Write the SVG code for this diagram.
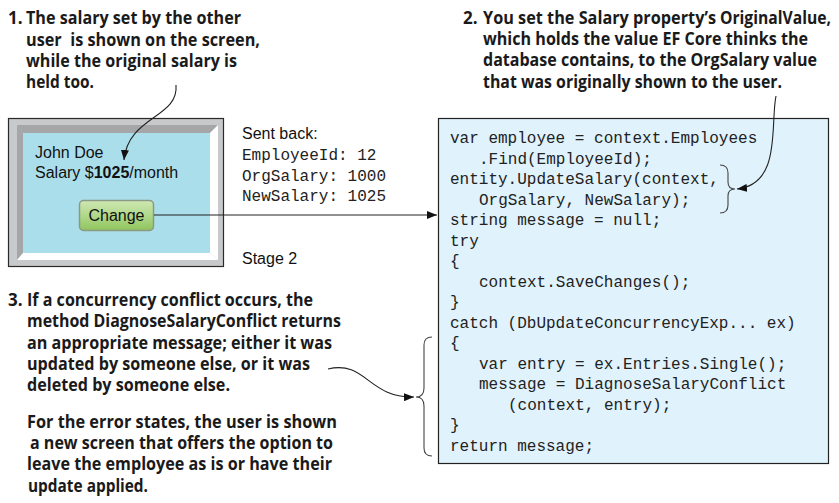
<svg xmlns="http://www.w3.org/2000/svg" width="839" height="503" viewBox="0 0 839 503">
<defs>
<style>
.note{font-family:"Open Sans",Lato,"Liberation Sans",sans-serif;font-weight:bold;font-size:17px;fill:#1a1a1a}
.ui{font-family:"Liberation Sans",Arial,sans-serif;font-size:16px;fill:#111}
.mono{font-family:"Liberation Mono","Courier New",monospace;font-size:16px;fill:#222}
.conn{fill:none;stroke:#222;stroke-width:1.1}
.brace{fill:none;stroke:#444;stroke-width:1.1}
</style>
<marker id="ah" viewBox="0 0 10 8" refX="10" refY="4" markerWidth="10" markerHeight="8" markerUnits="userSpaceOnUse" orient="auto">
<path d="M0,0 L10,4 L0,8 Z" fill="#111"/>
</marker>
<linearGradient id="btn" x1="0" y1="0" x2="0" y2="1">
<stop offset="0" stop-color="#cfe7b3"/>
<stop offset="0.5" stop-color="#b0d88a"/>
<stop offset="1" stop-color="#8fc45d"/>
</linearGradient>
</defs>
<rect width="839" height="503" fill="#ffffff"/>

<g id="note1">
<text class="note" x="8" y="24">1.</text>
<text class="note" x="26" y="24" textLength="215" lengthAdjust="spacingAndGlyphs">The salary set by the other</text>
<text class="note" x="26" y="46" textLength="234" lengthAdjust="spacingAndGlyphs" xml:space="preserve">user  is shown on the screen,</text>
<text class="note" x="26" y="67" textLength="211" lengthAdjust="spacingAndGlyphs">while the original salary is</text>
<text class="note" x="26" y="88" textLength="68" lengthAdjust="spacingAndGlyphs">held too.</text>
</g>

<g id="note2">
<text class="note" x="463" y="24">2.</text>
<text class="note" x="483" y="24" font-size="16.5" textLength="233" lengthAdjust="spacingAndGlyphs">You set the Salary property’s</text>
<text class="note" x="720" y="24" font-size="15.8" textLength="111" lengthAdjust="spacingAndGlyphs">OriginalValue,</text>
<text class="note" x="483" y="45" textLength="325" lengthAdjust="spacingAndGlyphs">which holds the value EF Core thinks the</text>
<text class="note" x="483" y="66" textLength="334" lengthAdjust="spacingAndGlyphs">database contains, to the OrgSalary value</text>
<text class="note" x="483" y="88" textLength="299" lengthAdjust="spacingAndGlyphs">that was originally shown to the user.</text>
</g>

<g id="note3">
<text class="note" x="8" y="306">3.</text>
<text class="note" x="27" y="306" textLength="286" lengthAdjust="spacingAndGlyphs">If a concurrency conflict occurs, the</text>
<text class="note" x="27" y="327" textLength="314" lengthAdjust="spacingAndGlyphs">method DiagnoseSalaryConflict returns</text>
<text class="note" x="27" y="349" textLength="305" lengthAdjust="spacingAndGlyphs">an appropriate message; either it was</text>
<text class="note" x="27" y="370" textLength="283" lengthAdjust="spacingAndGlyphs">updated by someone else, or it was</text>
<text class="note" x="27" y="391" textLength="203" lengthAdjust="spacingAndGlyphs">deleted by someone else.</text>
<text class="note" x="27" y="428" textLength="310" lengthAdjust="spacingAndGlyphs">For the error states, the user is shown</text>
<text class="note" x="30" y="449" textLength="303" lengthAdjust="spacingAndGlyphs">a new screen that offers the option to</text>
<text class="note" x="27" y="470" textLength="305" lengthAdjust="spacingAndGlyphs">leave the employee as is or have their</text>
<text class="note" x="28" y="492" textLength="120" lengthAdjust="spacingAndGlyphs">update applied.</text>
</g>

<g id="screen">
<rect x="8.5" y="118.5" width="215" height="148" fill="#c8c9cb" stroke="#2a2a2a" stroke-width="1.2"/>
<polygon points="17,125 218,125 210,133 23,133" fill="#a5a6a8"/>
<polygon points="17,125 23,133 23,253 17,260" fill="#a5a6a8"/>
<polygon points="218,125 218,260 210,253 210,133" fill="#ffffff"/>
<polygon points="17,260 218,260 210,253 23,253" fill="#ffffff"/>
<rect x="23" y="133" width="187" height="120" fill="#abdeeb"/>
<text class="ui" x="35" y="158">John Doe</text>
<text class="ui" x="35" y="178">Salary $<tspan font-weight="bold">1025</tspan>/month</text>
</g>

<g id="change-button">
<rect x="79.5" y="200.5" width="74" height="30" rx="4" fill="url(#btn)" stroke="#8a9a84" stroke-width="1.5"/>
<text class="ui" x="116.5" y="221" text-anchor="middle" font-size="15.5">Change</text>
</g>

<g id="sent-back">
<text class="ui" x="242" y="139">Sent back:</text>
<text class="mono" x="242" y="160">EmployeeId: 12</text>
<text class="mono" x="242" y="181">OrgSalary: 1000</text>
<text class="mono" x="242" y="201">NewSalary: 1025</text>
<text class="ui" x="242" y="264">Stage 2</text>
</g>

<g id="code">
<rect x="438.5" y="118.5" width="390" height="345" fill="#e0f2fc" stroke="#222" stroke-width="1.2"/>
<text class="mono" x="450" y="143">var employee = context.Employees</text>
<text class="mono" x="479" y="163.5">.Find(EmployeeId);</text>
<text class="mono" x="450" y="184">entity.UpdateSalary(context,</text>
<text class="mono" x="479" y="204.5">OrgSalary, NewSalary);</text>
<text class="mono" x="450" y="225">string message = null;</text>
<text class="mono" x="450" y="245.5">try</text>
<text class="mono" x="450" y="266">{</text>
<text class="mono" x="479" y="286.5">context.SaveChanges();</text>
<text class="mono" x="450" y="307">}</text>
<text class="mono" x="450" y="327.5">catch (DbUpdateConcurrencyExp... ex)</text>
<text class="mono" x="450" y="348">{</text>
<text class="mono" x="479" y="368.5">var entry = ex.Entries.Single();</text>
<text class="mono" x="479" y="389">message = DiagnoseSalaryConflict</text>
<text class="mono" x="508" y="409.5">(context, entry);</text>
<text class="mono" x="450" y="430">}</text>
<text class="mono" x="450" y="450.5">return message;</text>
</g>

<g id="connectors">
<path class="conn" d="M154,215 L437,215" marker-end="url(#ah)"/>
<path class="conn" d="M176,85 C179,118 128,116 124,160" marker-end="url(#ah)"/>
<path class="conn" d="M776,96 C770,125 782,184 737,189" marker-end="url(#ah)"/>
<path class="conn" d="M328,369 C366,360 368,398 414,397" marker-end="url(#ah)"/>
<path class="brace" d="M720,165 C726,165 728,168 728,173 L728,182 C728,187 731,189 735,189 C731,189 728,191 728,196 L728,205 C728,210 726,213 720,213"/>
<path class="brace" d="M432,337 C426,337 424,340 424,345 L424,388 C424,394 421,397 416,397 C421,397 424,400 424,406 L424,448 C424,453 426,456 432,456"/>
</g>
</svg>
